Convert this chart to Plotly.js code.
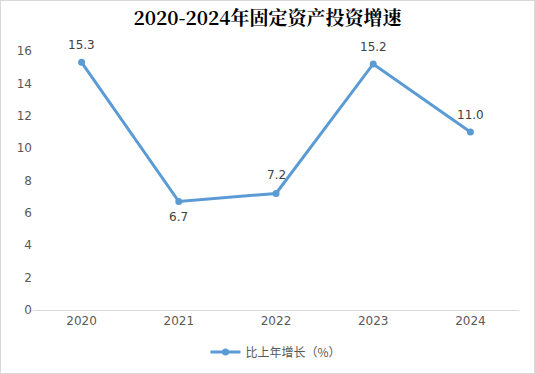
<!DOCTYPE html>
<html><head><meta charset="utf-8">
<script src="https://cdn.plot.ly/plotly-3.0.1.min.js"></script>
<style>
html,body{margin:0;padding:0;background:#fff;}
#wrap{width:535px;height:374px;box-sizing:border-box;border:1px solid #d9d9d9;}
#chart{width:533px;height:372px;}
</style></head>
<body><div id="wrap"><div id="chart"></div></div>
<script>
const years = ['2020','2021','2022','2023','2024'];
const growth = [15.3, 6.7, 7.2, 15.2, 11.0];
const labels = ['15.3','6.7','7.2','15.2','11.0'];
const labelShift = [17, -15, 18, 17, 17];
const seriesName = '比上年增长（%）';
const titleText = '2020-2024年固定资产投资增速';

const annotations = years.map((yr, i) => ({
  x: i, y: growth[i], xref: 'x', yref: 'y', text: labels[i], showarrow: false,
  yshift: labelShift[i], xanchor: 'center', yanchor: 'middle',
  font: {family: 'DejaVu Sans, sans-serif', size: 12, color: '#404040'}
}));

Plotly.newPlot('chart', [{
  x: years, y: growth, type: 'scatter', mode: 'lines+markers',
  name: seriesName,
  line: {color: '#5B9BD5', width: 3},
  marker: {color: '#5B9BD5', size: 7},
  cliponaxis: false
}], {
  width: 533, height: 372,
  margin: {l: 32, r: 15, t: 50, b: 63},
  paper_bgcolor: '#fff', plot_bgcolor: '#fff',
  annotations: annotations,
  title: {text: '<b>' + titleText + '</b>', x: 0.5, xanchor: 'center', yref: 'container', y: 1 - 17/372, yanchor: 'middle',
    font: {family: 'Noto Serif CJK SC, Noto Sans CJK SC, serif', size: 19, color: '#000'}},
  xaxis: {type: 'category', range: [-0.5, 4.5], showgrid: false, showline: true, linecolor: '#d9d9d9', linewidth: 1,
    ticks: '', tickfont: {family: 'DejaVu Sans, sans-serif', size: 12, color: '#595959'}, zeroline: false, fixedrange: true},
  yaxis: {range: [0, 16], dtick: 2, showgrid: false, zeroline: false, showline: false, ticks: '',
    ticklen: 0, tickfont: {family: 'DejaVu Sans, sans-serif', size: 12, color: '#595959'}, fixedrange: true},
  showlegend: true,
  legend: {orientation: 'h', x: 0.5, xanchor: 'center', yref: 'container', y: 1 - 351/372, yanchor: 'middle',
    font: {family: 'Noto Sans CJK SC, sans-serif', size: 12, color: '#595959'}}
}, {displayModeBar: false, staticPlot: true});
</script></body></html>
